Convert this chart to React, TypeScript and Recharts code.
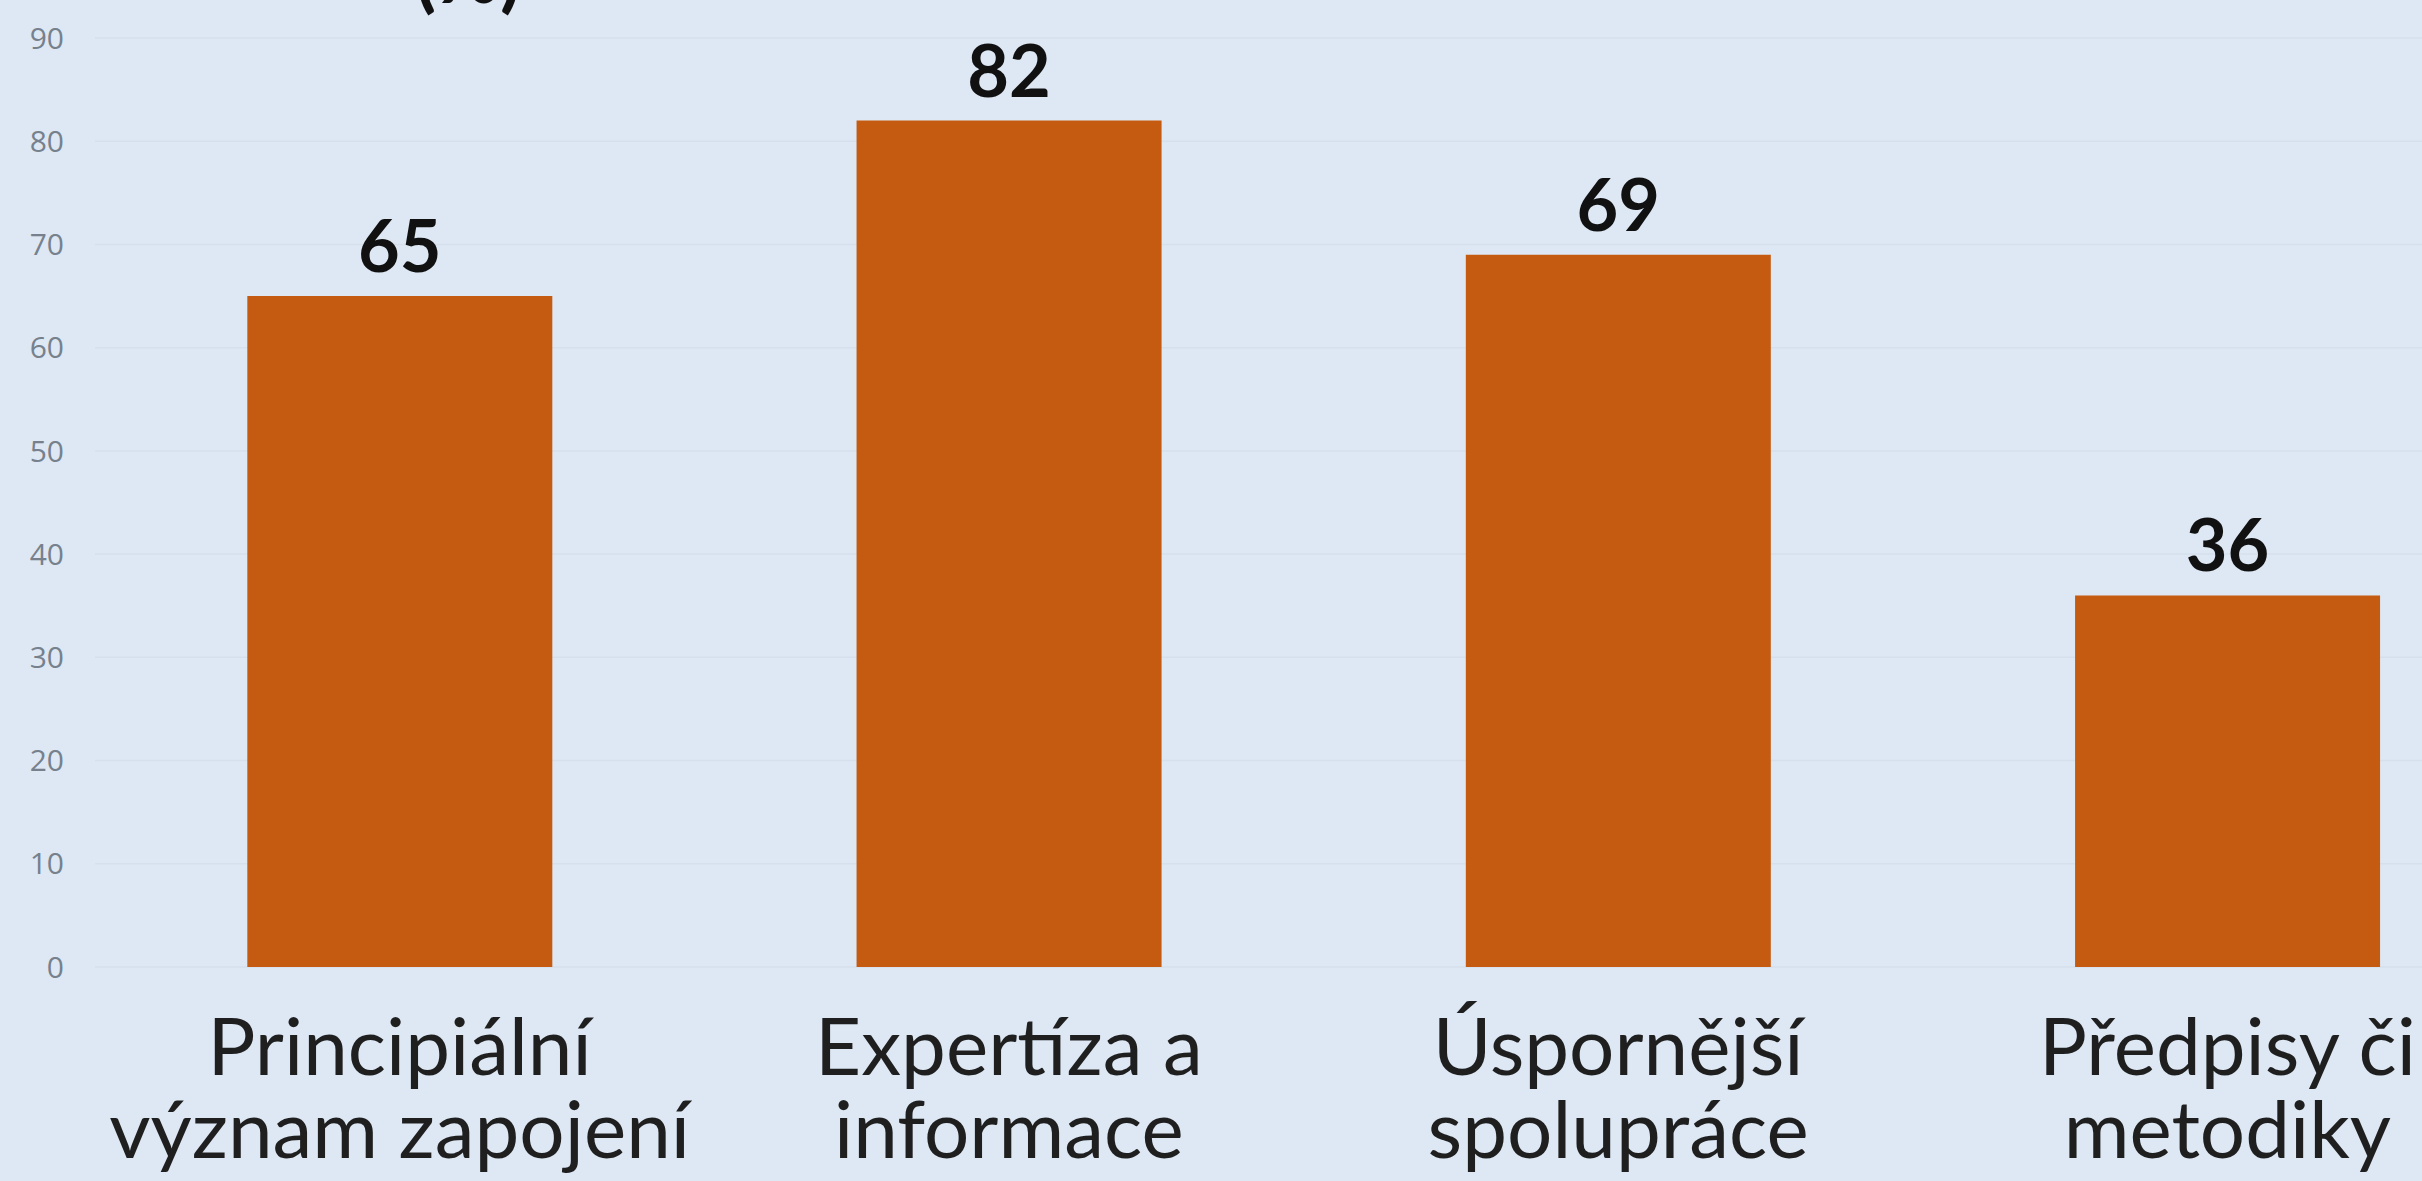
import { BarChart, Bar, XAxis, YAxis, CartesianGrid, LabelList } from "recharts";

const categories = ["Principiální\nvýznam zapojení", "Expertíza a\ninformace", "Úspornější\nspolupráce", "Předpisy či\nmetodiky"];
const shares = [65, 82, 69, 36];
const yTicks = [0, 10, 20, 30, 40, 50, 60, 70, 80, 90];
const unitLabel = "(%)";

const data = categories.map((name, i) => ({ name, value: shares[i] }));

const BG = "#dde8f4";
const BAR = "#c55a11";

function CategoryTick({ x, y, payload }: any) {
  const lines = String(payload.value).split("\n");
  return (
    <text x={x} y={y + 100} textAnchor="middle" fontFamily="Lato" fontSize={80} fill="#1f1f1f">
      {lines.map((line, i) => (
        <tspan key={i} x={x} dy={i === 0 ? 0 : 83}>
          {line}
        </tspan>
      ))}
    </text>
  );
}

export default function App() {
  return (
    <div style={{ position: "absolute", left: 0, top: 0, width: 2422, height: 1181, overflow: "hidden", background: BG }}>
      <div style={{ position: "absolute", left: 0, top: 0 }}>
        <BarChart width={2532} height={1181} data={data} margin={{ top: 38, right: 0, left: 0, bottom: 0 }} barCategoryGap="25%">
          <CartesianGrid vertical={false} stroke="#d5e0ec" strokeWidth={1.5} />
          <XAxis dataKey="name" axisLine={false} tickLine={false} height={214} interval={0} tick={<CategoryTick />} />
          <YAxis
            width={95}
            domain={[0, 90]}
            ticks={yTicks}
            axisLine={false}
            tickLine={false}
            tickMargin={25}
            tick={{ fontFamily: "Open Sans", fontSize: 30, fill: "#76818d" }}
          />
          <Bar dataKey="value" fill={BAR} isAnimationActive={false}>
            <LabelList dataKey="value" position="top" offset={24} fontFamily="Lato" fontWeight={700} fontSize={72} fill="#111" />
          </Bar>
        </BarChart>
      </div>
      <svg width={2422} height={40} style={{ position: "absolute", left: 0, top: 0 }}>
        <text x={468} y={3} textAnchor="middle" fontFamily="Lato" fontWeight={700} fontSize={78} fill="#111">
          {unitLabel}
        </text>
      </svg>
    </div>
  );
}
